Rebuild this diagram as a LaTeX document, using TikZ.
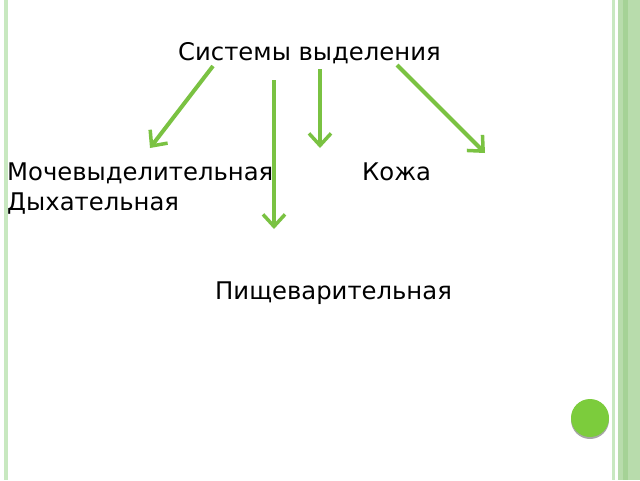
\documentclass[tikz,border=0pt]{standalone}
\usepackage{fontspec}
\setmainfont{DejaVu Sans}
\usetikzlibrary{arrows.meta}
\definecolor{arrowgreen}{RGB}{122,194,66}
\definecolor{dotgreen}{RGB}{124,204,60}
\definecolor{stripelight}{RGB}{200,232,192}
\definecolor{stripemid}{RGB}{184,220,172}
\definecolor{stripedark}{RGB}{165,210,150}
\tikzset{
  lbl/.style={anchor=base west, inner sep=0pt, font=\fontsize{24.3}{28}\selectfont},
  garrow/.style={draw=arrowgreen, line width=4pt, -{Straight Barb[length=12pt,width=22pt,line width=3.5pt]}}
}
\begin{document}
\begin{tikzpicture}[x=1pt,y=-1pt]
\fill[white] (0,0) rectangle (640,480);
\useasboundingbox (0,0) rectangle (640,480);
% stripes
\fill[stripelight] (4,0) rectangle (7.5,480);
\fill[stripelight] (612,0) rectangle (615,480);
\fill[stripemid] (618,0) rectangle (640,480);
\fill[stripedark] (623,0) rectangle (628,480);
% dot
\fill[black!35] (590,420) circle (19);
\fill[dotgreen] (590,418) circle (19);
% texts
\node[lbl] (sys) at (178,60) {Системы выделения};
\node[lbl] (moch) at (7,180) {Мочевыделительная};
\node[lbl] (dyh) at (7,210) {Дыхательная};
\node[lbl] (kozh) at (362,180) {Кожа};
\node[lbl] (pish) at (215,299) {Пищеварительная};
% arrow endpoints
\coordinate (a1s) at (213,66);
\coordinate (a1e) at (150,148);
\coordinate (a2s) at (274,80);
\coordinate (a2e) at (274,229);
\coordinate (a3s) at (320,69);
\coordinate (a3e) at (320,148);
\coordinate (a4s) at (397,65);
\coordinate (a4e) at (485,153);
\draw[garrow] (a1s) -- (a1e);
\draw[garrow] (a2s) -- (a2e);
\draw[garrow] (a3s) -- (a3e);
\draw[garrow] (a4s) -- (a4e);
\end{tikzpicture}
\end{document}
